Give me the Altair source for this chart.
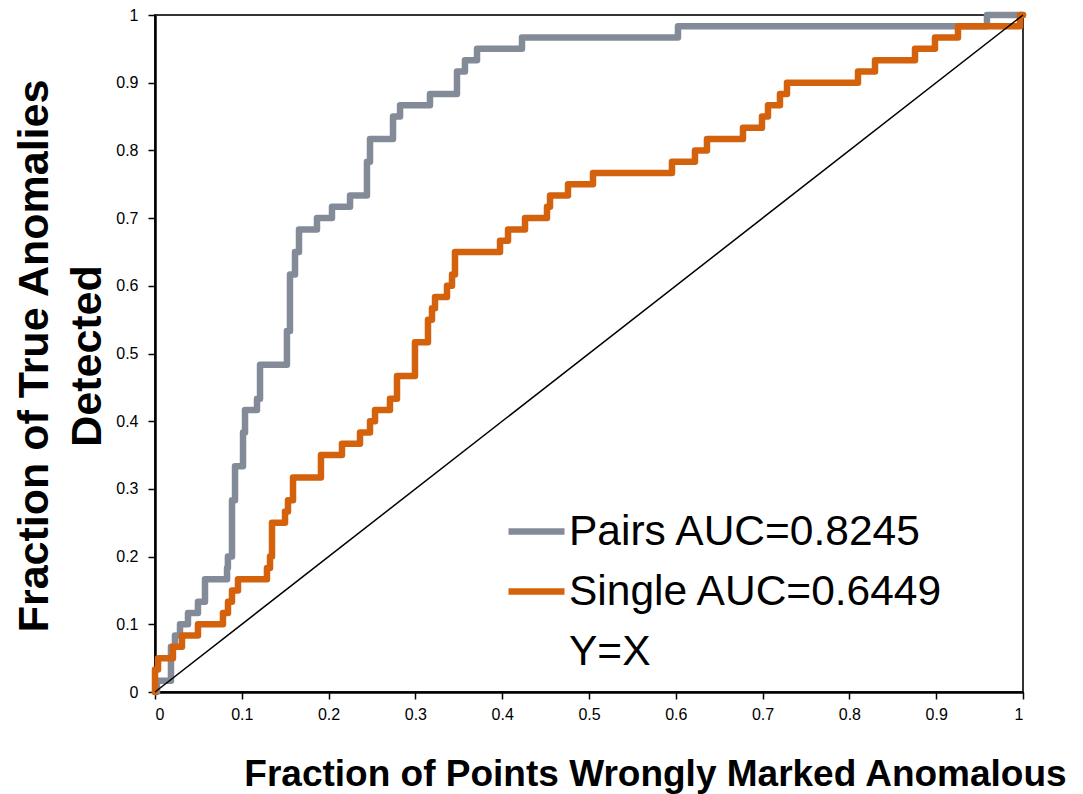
import altair as alt
import pandas as pd

# ---- data ----
pairs_fpr = [0.0, 0.0023, 0.0184, 0.023, 0.0288, 0.038, 0.0495, 0.0576, 0.083, 0.084,
             0.0887, 0.0922, 0.1014, 0.1037, 0.1175, 0.121, 0.152, 0.1555, 0.1613, 0.1659,
             0.1866, 0.2039, 0.2247, 0.2442, 0.2477, 0.2742, 0.2823, 0.3168, 0.3479, 0.3571,
             0.371, 0.4228, 0.6025, 0.9585, 1.0]
pairs_tpr = [0.0, 0.0167, 0.0667, 0.0833, 0.1, 0.1167, 0.1333, 0.1667, 0.1833, 0.2,
             0.2833, 0.3333, 0.3833, 0.4167, 0.4333, 0.4833, 0.5333, 0.6167, 0.65, 0.6833,
             0.7, 0.7167, 0.7333, 0.7833, 0.8167, 0.85, 0.8667, 0.8833, 0.9167, 0.9333,
             0.95, 0.9667, 0.9833, 1.0, 1.0]

single_fpr = [0.0, 0.0, 0.0035, 0.0207, 0.0311, 0.0495, 0.0783, 0.0841, 0.0887, 0.0956,
              0.129, 0.1325, 0.1348, 0.1498, 0.1532, 0.159, 0.1912, 0.2154, 0.2362, 0.2477,
              0.2535, 0.2707, 0.2788, 0.2995, 0.3145, 0.3191, 0.3226, 0.3364, 0.3422, 0.3456,
              0.3975, 0.4067, 0.4263, 0.4516, 0.4551, 0.4758, 0.5046, 0.5956, 0.6221, 0.6359,
              0.6774, 0.6993, 0.7062, 0.72, 0.7281, 0.8099, 0.8295, 0.8756, 0.8986, 0.9251,
              0.9965, 1.0]
single_tpr = [0.0, 0.0333, 0.05, 0.0667, 0.0833, 0.1, 0.1167, 0.1333, 0.15, 0.1667,
              0.1833, 0.2, 0.25, 0.2667, 0.2833, 0.3167, 0.35, 0.3667, 0.3833, 0.4,
              0.4167, 0.4333, 0.4667, 0.5167, 0.55, 0.5667, 0.5833, 0.6, 0.6167, 0.65,
              0.6667, 0.6833, 0.7, 0.7167, 0.7333, 0.75, 0.7667, 0.7833, 0.8, 0.8167,
              0.8333, 0.85, 0.8667, 0.8833, 0.9, 0.9167, 0.9333, 0.95, 0.9667, 0.9833,
              1.0, 1.0]

diag_x = [0.0, 1.0]
diag_y = [0.0, 1.0]

series_names = ["Pairs AUC=0.8245", "Single AUC=0.6449", "Y=X"]
series_colors = ["#848B98", "#D4620C", "transparent"]
tick_values = [0, 0.1, 0.2, 0.3, 0.4, 0.5, 0.6, 0.7, 0.8, 0.9, 1.0]

# ---- tables ----
rows = []
for i, (x, y) in enumerate(zip(pairs_fpr, pairs_tpr)):
    rows.append({"series": series_names[0], "fpr": x, "tpr": y, "idx": i})
for i, (x, y) in enumerate(zip(single_fpr, single_tpr)):
    rows.append({"series": series_names[1], "fpr": x, "tpr": y, "idx": i})
df = pd.DataFrame(rows)
diag = pd.DataFrame({"fpr": diag_x, "tpr": diag_y})

W, H = 868, 677

xscale = alt.Scale(domain=[0, 1], nice=False, zero=False)
yscale = alt.Scale(domain=[0, 1], nice=False, zero=False)

xaxis = alt.Axis(
    values=tick_values, format="~g", grid=False,
    title="Fraction of Points Wrongly Marked Anomalous",
    titleFontSize=37, titleFontWeight="bold", titleFont="Liberation Sans",
    titleColor="black", titleX=500, titleY=93, titleAlign="center",
    titleBaseline="alphabetic",
    labelFontSize=16, labelFont="Liberation Sans", labelColor="black",
    labelPadding=7, tickSize=7, tickWidth=1.5, tickColor="black",
    domainColor="black", domainWidth=2.5,
)
yaxis = alt.Axis(
    values=tick_values, format="~g", grid=False,
    title=["Fraction of True Anomalies", "Detected"],
    titleFontSize=43, titleFontWeight="bold", titleFont="Liberation Sans",
    titleColor="black", titleX=-108, titleY=H / 2 + 2, titleAlign="center",
    titleBaseline="alphabetic", titleAngle=270, titleLineHeight=53,
    labelFontSize=16, labelFont="Liberation Sans", labelColor="black",
    labelPadding=10, tickSize=7, tickWidth=1.5, tickColor="black",
    domainColor="black", domainWidth=2.5,
)

legend = alt.Legend(
    orient="none", legendX=350, legendY=485, title=None,
    symbolType="stroke", symbolSize=3136, symbolStrokeWidth=6.5,
    labelFontSize=42.5, labelFont="Liberation Sans", labelColor="black",
    labelOffset=1, labelLimit=800, rowPadding=7, padding=0,
)

color = alt.Color("series:N", scale=alt.Scale(domain=series_names, range=series_colors),
                  legend=legend)

curves = alt.Chart(df).mark_line(
    interpolate="step-after", strokeWidth=6.5, strokeJoin="round", strokeCap="round"
).encode(
    x=alt.X("fpr:Q", scale=xscale, axis=xaxis),
    y=alt.Y("tpr:Q", scale=yscale, axis=yaxis),
    color=color,
    order=alt.Order("idx:Q"),
)

diag_line = alt.Chart(diag).mark_line(color="black", strokeWidth=1.5).encode(
    x=alt.X("fpr:Q", scale=xscale),
    y=alt.Y("tpr:Q", scale=yscale),
)

chart = alt.layer(curves, diag_line).properties(
    width=W, height=H,
    autosize=alt.AutoSizeParams(type="none"),
    padding={"left": 155, "top": 15, "right": 60, "bottom": 102},
    background="white",
).configure_view(
    stroke="#333333", strokeWidth=2
)

chart.save("out.html", embed_options={"renderer": "svg", "actions": False})
